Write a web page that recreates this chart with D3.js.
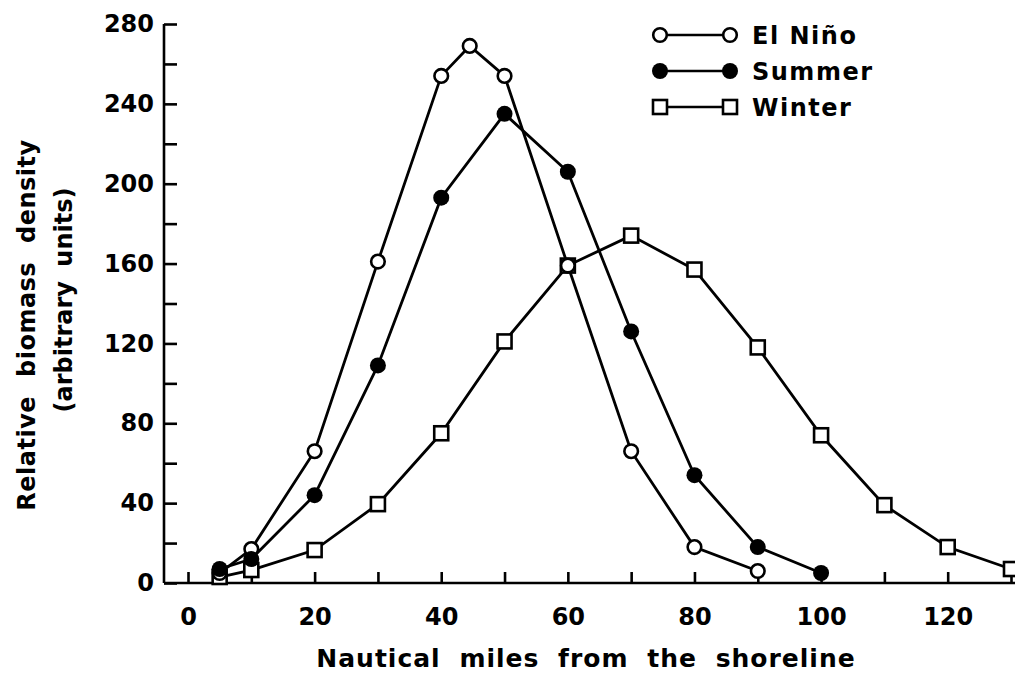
<!DOCTYPE html>
<html>
<head>
<meta charset="utf-8">
<script src="https://cdn.jsdelivr.net/npm/d3@7"></script>
<style>
  body { margin: 0; background: #fff; }
  text { font-family: "DejaVu Sans", sans-serif; font-weight: bold; fill: #000; }
</style>
</head>
<body>
<svg id="chart"></svg>
<script>
const width = 1015
const height = 674

// distances (nautical miles) and relative biomass density
const ninoMiles = [5, 10, 20, 30, 40, 44.5, 50, 60, 70, 80, 90]
const ninoDensity = [5, 17, 66, 161, 254, 269, 254, 159, 66, 18, 6]

const summerMiles = [5, 10, 20, 30, 40, 50, 60, 70, 80, 90, 100]
const summerDensity = [7, 12, 44, 109, 193, 235, 206, 126, 54, 18, 5]

const winterMiles = [5, 10, 20, 30, 40, 50, 60, 70, 80, 90, 100, 110, 120, 130]
const winterDensity = [3, 6.5, 16.5, 39.5, 75, 121, 159, 174, 157, 118, 74, 39, 18, 7]

const seriesNames = ["El Niño", "Summer", "Winter"]
const xTicks = d3.range(0, 131, 10)
const yTicks = d3.range(0, 281, 20)

const toPoints = (xs, ys) => xs.map((d, i) => ({ miles: d, density: ys[i] }))

const series = [
    { name: "Winter", marker: "square", values: toPoints(winterMiles, winterDensity) },
    { name: "El Niño", marker: "open", values: toPoints(ninoMiles, ninoDensity) },
    { name: "Summer", marker: "filled", values: toPoints(summerMiles, summerDensity) }
]

const svg = d3.select("#chart").attr("width", width).attr("height", height)

const ax = d3.scaleLinear().domain([0, 130]).range([188, 1011])
const ay = d3.scaleLinear().domain([0, 280]).range([583, 24])
const axisX = 164

// y axis, ticks pointing inward
const gy = svg.append("g")
    .attr("transform", `translate(${axisX},0)`)
    .call(d3.axisLeft(ay).tickValues(yTicks).tickSize(-13).tickSizeOuter(0).tickPadding(10)
        .tickFormat(d => d % 40 ? "" : d))
gy.select(".domain").remove()
gy.append("line").attr("x1", 0).attr("x2", 0).attr("y1", ay(280)).attr("y2", ay(0))
gy.selectAll("line").attr("stroke", "#000").attr("stroke-width", 2.6)
gy.selectAll("text").attr("font-size", 24).attr("fill", "#000")

// x axis
const gx = svg.append("g")
    .attr("transform", `translate(0,${ay(0)})`)
    .call(d3.axisBottom(ax).tickValues(xTicks).tickSize(-11).tickSizeOuter(0).tickPadding(25)
        .tickFormat(d => d % 20 ? "" : d))
gx.select(".domain").remove()
gx.append("line").attr("x1", axisX).attr("x2", width).attr("y1", 0).attr("y2", 0)
gx.selectAll("line").attr("stroke", "#000").attr("stroke-width", 2.6)
gx.selectAll("text").attr("font-size", 24).attr("fill", "#000")

const line = d3.line(d => ax(d.miles), d => ay(d.density))

svg.append("g").selectAll("path")
    .data(series)
    .join("path")
    .attr("d", d => line(d.values))
    .attr("fill", "none")
    .attr("stroke", "#000")
    .attr("stroke-width", 2.8)

function drawMarker(g, kind, x, y) {
    if (kind == "square") {
        g.append("rect").attr("x", x - 7).attr("y", y - 7).attr("width", 14).attr("height", 14)
            .attr("fill", "#fff").attr("stroke", "#000").attr("stroke-width", 2.6)
    } else if (kind == "open") {
        g.append("circle").attr("cx", x).attr("cy", y).attr("r", 6.8)
            .attr("fill", "#fff").attr("stroke", "#000").attr("stroke-width", 2.6)
    } else {
        g.append("circle").attr("cx", x).attr("cy", y).attr("r", 8)
            .attr("fill", "#000")
    }
}

const gm = svg.append("g")
for (const s of series) {
    for (const d of s.values) drawMarker(gm, s.marker, ax(d.miles), ay(d.density))
}

// legend
const lgd = svg.append("g")
seriesNames.forEach((name, i) => {
    const s = series.find(d => d.name == name)
    const ly = 35 + i * 36
    lgd.append("line").attr("x1", 660).attr("x2", 730).attr("y1", ly).attr("y2", ly)
        .attr("stroke", "#000").attr("stroke-width", 2.6)
    drawMarker(lgd, s.marker, 660, ly)
    drawMarker(lgd, s.marker, 730, ly)
    lgd.append("text").attr("x", 752).attr("y", ly).attr("dy", "0.36em")
        .attr("font-size", 24).attr("letter-spacing", 1.5).text(name)
})

// axis titles
svg.append("text")
    .attr("x", 586).attr("y", 667)
    .attr("text-anchor", "middle").attr("font-size", 25)
    .attr("letter-spacing", 1).attr("word-spacing", 9)
    .text("Nautical miles from the shoreline")

svg.append("text")
    .attr("transform", "translate(35,325) rotate(-90)")
    .attr("text-anchor", "middle").attr("font-size", 24)
    .attr("letter-spacing", 0.5).attr("word-spacing", 10)
    .text("Relative biomass density")

svg.append("text")
    .attr("transform", "translate(72,300) rotate(-90)")
    .attr("text-anchor", "middle").attr("font-size", 24).attr("word-spacing", 6)
    .text("(arbitrary units)")
</script>
</body>
</html>
